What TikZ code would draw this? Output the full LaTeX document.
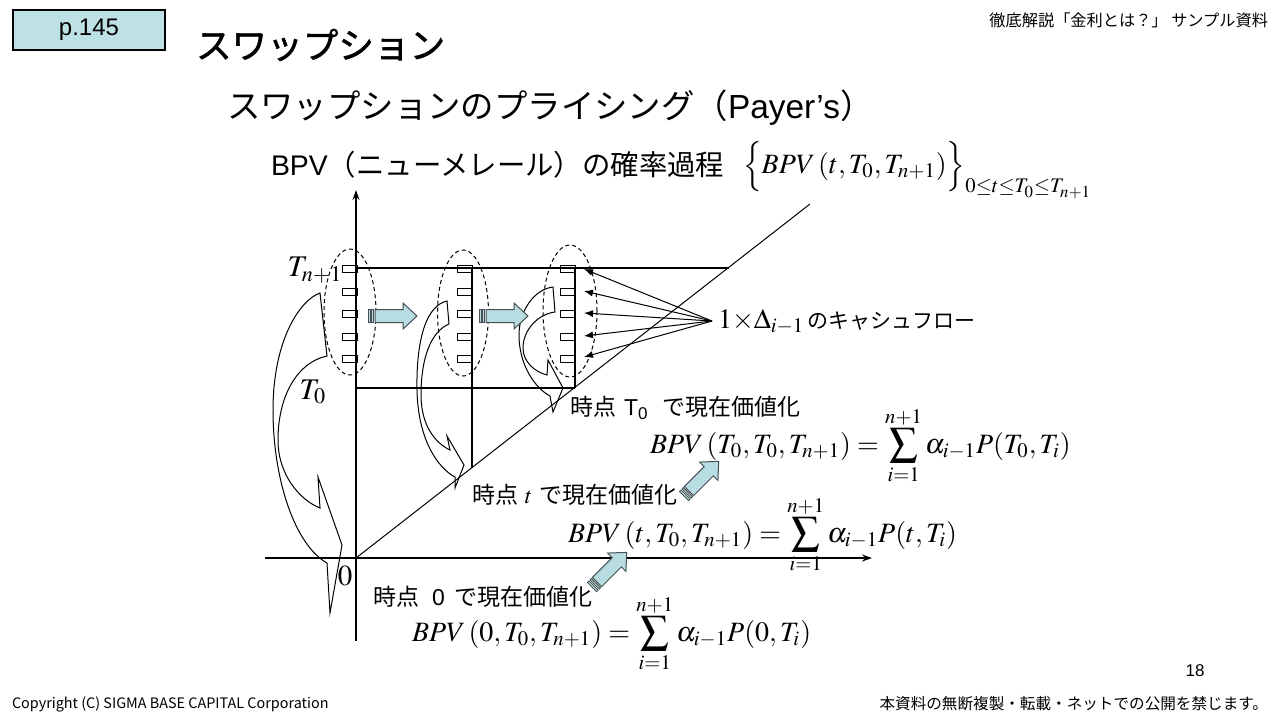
\documentclass[tikz,border=0pt]{standalone}
\usepackage{mathptmx}
\usepackage[no-math]{fontspec}
\setmainfont{Liberation Sans}
\newfontfamily\cjk{Noto Sans CJK JP}
\newfontfamily\cjkb[FakeBold=1.5]{Noto Sans CJK JP}
\usetikzlibrary{arrows.meta}
\definecolor{boxcyan}{RGB}{190,225,229}
\definecolor{arrcyan}{RGB}{183,221,226}
\definecolor{arredge}{RGB}{70,80,82}
\tikzset{
  axis/.style={line width=0.75pt,-{Stealth[length=5pt,width=3.5pt]}},
  grid/.style={line width=0.6pt},
  diag/.style={line width=0.5pt},
  cfbox/.style={draw,line width=0.5pt,minimum width=7.5pt,minimum height=3.5pt,inner sep=0pt},
  dashell/.style={line width=0.5pt,dash pattern=on 2pt off 1.5pt},
  curv/.style={line width=0.5pt,line join=miter},
  cfa/.style={line width=0.5pt,-{Latex[length=4.5pt,width=3.5pt]}},
  txt/.style={inner sep=0pt,outer sep=0pt},
  blockarrow/.pic={
    \draw[line width=0.4pt,draw=arredge,fill=arrcyan] (0,-6.5) rectangle (2,6.5);
    \draw[line width=0.4pt,draw=arredge,fill=arrcyan] (3.5,-6.5) rectangle (5.5,6.5);
    \draw[line width=0.5pt,draw=arredge,fill=arrcyan] (7,-6.5) -- (35,-6.5) -- (35,-13) -- (49,0) -- (35,13) -- (35,6.5) -- (7,6.5) -- cycle;
  }
}
\begin{document}
\begin{tikzpicture}[x=0.5pt,y=-0.5pt]
\useasboundingbox (0,0) rectangle (1280,720);

% header
\node[draw,line width=0.6pt,fill=boxcyan,minimum width=76pt,minimum height=20pt,inner sep=0pt,font=\fontsize{12}{14}\selectfont] (pg) at (89,30) {p.145};
\node[txt,anchor=west,font=\fontsize{17.8}{20}\selectfont\cjkb] (title) at (196,45) {スワップション};
\node[txt,anchor=east,font=\fontsize{8.1}{9}\selectfont\cjk] (hdr) at (1268,20) {徹底解説「金利とは？」 サンプル資料};
\node[txt,anchor=west,font=\fontsize{16.7}{19}\selectfont] (sub) at (227,108) {{\cjk スワップションのプライシング（}Payer’s{\cjk ）}};
\node[txt,anchor=west,font=\fontsize{14.2}{17}\selectfont] (bpvt) at (271,165) {BPV{\cjk （ニューメレール）の確率過程}};
\node[txt,anchor=west,font=\fontsize{14}{17}\selectfont] (bpvm) at (743,170) {$\Big\{BPV\,(t,T_0,T_{n+1})\Big\}_{0\le t\le T_0\le T_{n+1}}$};

% axes and lines
\coordinate (O) at (356,558);
\coordinate (ytop) at (356,190);
\coordinate (ybot) at (356,641);
\coordinate (xl) at (265,558);
\coordinate (xr) at (872,558);
\coordinate (dend) at (810,204);
\coordinate (tn1a) at (356,268);
\coordinate (tn1b) at (729,268);
\coordinate (t0a) at (356,388);
\coordinate (t0b) at (575,388);
\coordinate (v2a) at (472,268);
\coordinate (v2b) at (472,468);
\coordinate (v3a) at (575,268);
\draw[axis] (ybot) -- (ytop);
\draw[axis] (xl) -- (xr);
\draw[diag] (O) -- (dend);
\draw[grid] (tn1a) -- (tn1b);
\draw[grid] (t0a) -- (t0b);
\draw[grid] (v2a) -- (v2b);
\draw[grid] (v3a) -- (t0b);

% boxes
\foreach \c/\x in {1/349.5,2/464.5,3/568}{
  \foreach \r/\y in {1/268.5,2/291.5,3/314,4/336.5,5/359}{
    \node[cfbox] (c\c b\r) at (\x,\y) {};
  }
}

% dashed ellipses
\draw[dashell] (350,312) ellipse [x radius=13pt,y radius=31.5pt];
\draw[dashell] (463,313) ellipse [x radius=12.75pt,y radius=31.5pt];
\draw[dashell] (570,311) ellipse [x radius=13.5pt,y radius=33pt];

% labels on axes
\node[txt,font=\fontsize{15}{18}\selectfont] (lTn) at (315,270) {$T_{n+1}$};
\node[txt,font=\fontsize{15}{18}\selectfont] (lT0) at (313,392) {$T_0$};
\node[txt,font=\fontsize{14.5}{17}\selectfont] (l0) at (345,576) {$0$};

% curved arrows
\draw[curv] (320,293) .. controls (300,300) and (273,340) .. (273,410)
  .. controls (273,480) and (295,545) .. (327,563) -- (330,613) -- (342,545) -- (318,477) -- (320,508)
  .. controls (300,500) and (278,475) .. (278,440) .. controls (278,395) and (298,362) .. (327,356) -- cycle;
\draw[curv] (447,301) .. controls (428,305) and (416,335) .. (417,390)
  .. controls (418,440) and (438,468) .. (455,477) -- (455,488) -- (464,465) -- (447,436) -- (450,450)
  .. controls (435,443) and (421,425) .. (421,395) .. controls (421,360) and (430,332) .. (449,324) -- cycle;
\draw[curv] (553,287) .. controls (535,289) and (519,310) .. (519,335)
  .. controls (519,365) and (535,388) .. (550,396) -- (553,412) -- (563,388) -- (548,360) -- (547,375)
  .. controls (535,372) and (523,362) .. (523,348) .. controls (523,330) and (538,314) .. (555,312) -- cycle;

% block arrows
\pic at (368,316) {blockarrow};
\pic at (479,316) {blockarrow};
\pic[rotate=45] at (684,496) {blockarrow};
\pic[rotate=45] at (592,587) {blockarrow};

% cash flow arrows
\coordinate (cfsrc) at (712,321);
\coordinate (tp1) at (584,269);
\coordinate (tp2) at (584,291);
\coordinate (tp3) at (584,313);
\coordinate (tp4) at (584,336);
\coordinate (tp5) at (584,357);
\foreach \i in {1,...,5}{\draw[cfa] (cfsrc) -- (tp\i);}
\node[txt,anchor=west] (cfl) at (718,322) {\fontsize{14}{17}\selectfont$1{\times}\Delta_{i-1}$\hspace{1.5pt}\fontsize{10.5}{12}\selectfont\cjk のキャシュフロー};

% present value labels
\node[txt,anchor=west,font=\fontsize{11.5}{13}\selectfont] (pv1) at (570,408) {{\cjk 時点}\hspace{4pt}T\textsubscript{0}\hspace{7pt}{\cjk で現在価値化}};
\node[txt,anchor=west,font=\fontsize{11.5}{13}\selectfont] (pv2) at (472,495) {{\cjk 時点}\hspace{3.5pt}$t$\hspace{3.5pt}{\cjk で現在価値化}};
\node[txt,anchor=west,font=\fontsize{11.5}{13}\selectfont] (pv3) at (373,597) {{\cjk 時点}\hspace{6.5pt}0\hspace{5pt}{\cjk で現在価値化}};

% equations
\node[txt,anchor=base west,font=\fontsize{14}{17}\selectfont] (eq1) at (650,453) {$\displaystyle BPV\,(T_0,T_0,T_{n+1})=\sum_{i=1}^{n+1}\alpha_{i-1}P(T_0,T_i)$};
\node[txt,anchor=base west,font=\fontsize{14}{17}\selectfont] (eq2) at (568,542) {$\displaystyle BPV\,(t,T_0,T_{n+1})=\sum_{i=1}^{n+1}\alpha_{i-1}P(t,T_i)$};
\node[txt,anchor=base west,font=\fontsize{14}{17}\selectfont] (eq3) at (412,641) {$\displaystyle BPV\,(0,T_0,T_{n+1})=\sum_{i=1}^{n+1}\alpha_{i-1}P(0,T_i)$};

% footer
\node[txt,font=\fontsize{8.5}{10}\selectfont] (pnum) at (1195,671) {18};
\node[txt,anchor=west,font=\fontsize{7.2}{8}\selectfont\cjk] (copy) at (12,704) {Copyright (C) SIGMA BASE CAPITAL Corporation};
\node[txt,anchor=east,font=\fontsize{7.8}{9}\selectfont\cjk] (rights) at (1268,704) {本資料の無断複製・転載・ネットでの公開を禁じます。};
\end{tikzpicture}
\end{document}
